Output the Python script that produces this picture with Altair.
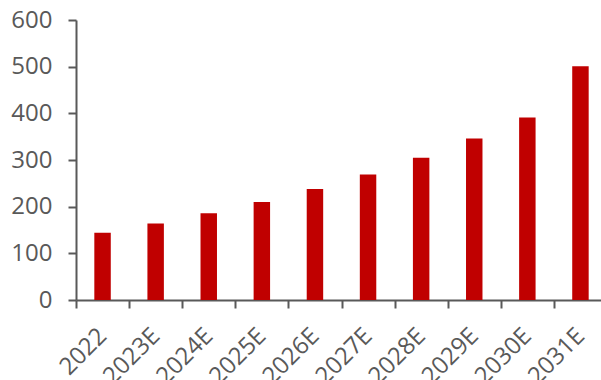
import altair as alt
import pandas as pd

years = ["2022", "2023E", "2024E", "2025E", "2026E", "2027E", "2028E", "2029E", "2030E", "2031E"]
values = [144, 164, 186, 210, 238, 269, 305, 346, 391, 501]

df = pd.DataFrame({"year": years, "value": values})

gray = "#595959"
font = "Open Sans"

chart = alt.Chart(df).mark_bar(color="#C00000", width=alt.RelativeBandSize(0.31)).encode(
    x=alt.X("year:N", sort=years, title=None,
            scale=alt.Scale(paddingInner=0, paddingOuter=0, range=[0, 531]),
            axis=alt.Axis(labelAngle=-45, labelAlign="right", labelBaseline="middle",
                          labelFontSize=24, labelColor=gray, labelFont=font,
                          domainColor=gray, domainWidth=2, tickColor=gray, tickWidth=2,
                          tickSize=8, tickBand="extent", labelPadding=24, grid=False)),
    y=alt.Y("value:Q", title=None,
            scale=alt.Scale(domain=[0, 600], nice=False),
            axis=alt.Axis(values=[0, 100, 200, 300, 400, 500, 600],
                          labelFontSize=24, labelColor=gray, labelFont=font,
                          domainColor=gray, domainWidth=2, tickColor=gray, tickWidth=2,
                          tickSize=8, labelPadding=16, grid=False)),
).properties(
    width=525, height=280,
    autosize=alt.AutoSizeParams(type="none"),
    padding={"left": 76, "top": 20, "right": 0, "bottom": 80},
).configure_view(stroke=None)

chart.save("out.html", embed_options={"renderer": "svg", "actions": False})
